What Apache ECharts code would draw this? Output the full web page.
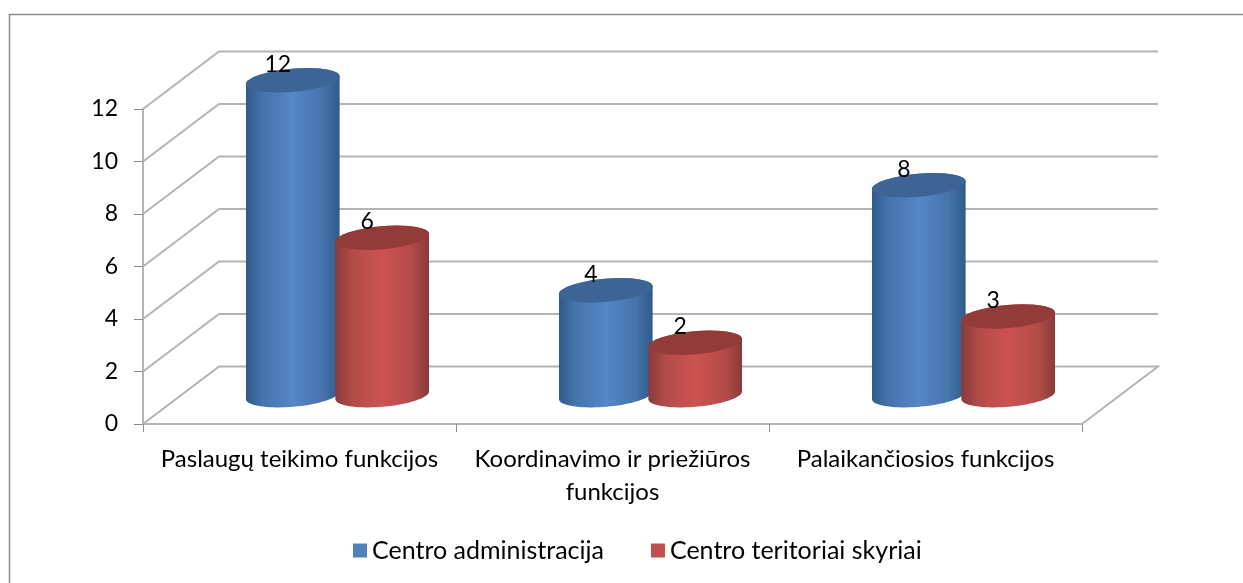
<!DOCTYPE html>
<html>
<head>
<meta charset="utf-8">
<style>
    html, body { margin: 0; padding: 0; background: #fff; }
    #chart { width: 1243px; height: 583px; }
</style>
<script src="https://cdn.jsdelivr.net/npm/echarts@6/dist/echarts.min.js"></script>
</head>
<body>
<div id="chart"></div>
<script>
var categories = ['Paslaugų teikimo funkcijos', 'Koordinavimo ir priežiūros\nfunkcijos', 'Palaikančiosios funkcijos'];
var seriesNames = ['Centro administracija', 'Centro teritoriai skyriai'];
var administracija = [12, 4, 8];
var skyriai = [6, 2, 3];
var yTicks = [0, 2, 4, 6, 8, 10, 12];

var FONT = 'Lato';
var GRID_COLOR = '#b4b4b4';
// 3d look: how far the back wall sits from the front plane
var DEPTH_X = 76;
var DEPTH_Y = 57.5;
// cylinder
var RX = 47;
var RY = 11.5;
var TILT = -5 * Math.PI / 180;
var SPREAD = 44.7;

// point on the tilted ellipse around (cx, cy)
function ellipsePoint(cx, cy, t) {
    var ex = RX * Math.cos(t);
    var ey = RY * Math.sin(t);
    return [
        cx + ex * Math.cos(TILT) - ey * Math.sin(TILT),
        cy + ex * Math.sin(TILT) + ey * Math.cos(TILT)
    ];
}

function arcPoints(cx, cy, from, to) {
    var pts = [];
    for (var i = 0; i <= 40; i++) {
        pts.push(ellipsePoint(cx, cy, from + (to - from) * i / 40));
    }
    return pts;
}

// back wall and floor lines, one data item per y tick
function renderWall(params, api) {
    var rect = params.coordSys;
    var left = rect.x;
    var right = rect.x + rect.width;
    var y = api.coord([0, api.value(0)])[1];
    var pts = [[left, y], [left + DEPTH_X, y - DEPTH_Y], [right + DEPTH_X, y - DEPTH_Y]];
    if (api.value(0) === 0) {
        pts.push([right, y]);
    }
    return {
        type: 'polyline',
        shape: { points: pts },
        style: { fill: null, stroke: GRID_COLOR, lineWidth: 2 },
        silent: true
    };
}

function cylinderRenderer(side, edge, mid, light, topColor) {
    return function (params, api) {
        var value = api.value(1);
        var top = api.coord([api.value(0), value]);
        var base = api.coord([api.value(0), 0]);
        var cx = top[0] + DEPTH_X / 2 + side * SPREAD;
        var topY = top[1] - DEPTH_Y / 2;
        var baseY = base[1] - DEPTH_Y / 2;
        var body = arcPoints(cx, baseY, 0, Math.PI).concat(arcPoints(cx, topY, Math.PI, 2 * Math.PI));
        return {
            type: 'group',
            children: [
                {
                    type: 'polygon',
                    shape: { points: body },
                    style: {
                        fill: new echarts.graphic.LinearGradient(0, 0, 1, 0, [
                            { offset: 0, color: edge },
                            { offset: 0.18, color: mid },
                            { offset: 0.5, color: light },
                            { offset: 0.82, color: mid },
                            { offset: 1, color: edge }
                        ])
                    }
                },
                {
                    type: 'polygon',
                    shape: { points: arcPoints(cx, topY, 0, 2 * Math.PI) },
                    style: { fill: topColor }
                },
                {
                    type: 'text',
                    z2: 10,
                    style: {
                        text: String(value),
                        x: cx - 15,
                        y: topY - 16,
                        align: 'center',
                        verticalAlign: 'middle',
                        font: '23px ' + FONT,
                        fill: '#000'
                    }
                }
            ]
        };
    };
}

function toRows(values) {
    var rows = [];
    for (var i = 0; i < values.length; i++) {
        rows.push([i, values[i]]);
    }
    return rows;
}

var option = {
    animation: false,
    backgroundColor: '#fff',
    textStyle: { fontFamily: FONT },
    graphic: [{
        type: 'polyline',
        shape: { points: [[9.5, 583], [9.5, 14.5], [1243, 14.5]] },
        style: { fill: null, stroke: '#8c8c8c', lineWidth: 1.5 },
        silent: true
    }],
    legend: {
        left: 348,
        top: 533,
        itemWidth: 14,
        itemHeight: 14,
        itemGap: 47,
        icon: 'rect',
        data: seriesNames,
        textStyle: { fontFamily: FONT, fontSize: 25, color: '#000' }
    },
    grid: { left: 143, right: 161, top: 109, height: 315 },
    xAxis: {
        type: 'category',
        data: categories,
        axisLine: { lineStyle: { color: GRID_COLOR, width: 2 } },
        axisTick: { show: true, length: 8, lineStyle: { color: '#8c8c8c', width: 1 } },
        axisLabel: { fontFamily: FONT, fontSize: 24, color: '#000', margin: 19, lineHeight: 33, interval: 0 }
    },
    yAxis: {
        type: 'value',
        min: 0,
        max: 12,
        interval: 2,
        axisLine: { show: true, lineStyle: { color: GRID_COLOR, width: 2 } },
        axisTick: { show: true, length: 9, lineStyle: { color: '#8c8c8c', width: 1 } },
        axisLabel: { fontFamily: FONT, fontSize: 23, color: '#000', margin: 25, padding: [4, 0, 0, 0] },
        splitLine: { show: false }
    },
    series: [
        {
            type: 'custom',
            coordinateSystem: 'cartesian2d',
            renderItem: renderWall,
            encode: { y: 0 },
            data: yTicks,
            z: 1,
            tooltip: { show: false }
        },
        {
            name: seriesNames[0],
            type: 'custom',
            renderItem: cylinderRenderer(-1, '#2f5a8c', '#4674ab', '#5586c8', '#3c6494'),
            encode: { x: 0, y: 1 },
            data: toRows(administracija),
            itemStyle: { color: '#4f81bd' },
            z: 3
        },
        {
            name: seriesNames[1],
            type: 'custom',
            renderItem: cylinderRenderer(1, '#873b39', '#b34b49', '#cc5351', '#923b39'),
            encode: { x: 0, y: 1 },
            data: toRows(skyriai),
            itemStyle: { color: '#c0504d' },
            z: 4
        }
    ]
};

var chart = echarts.init(document.getElementById('chart'), null, { renderer: 'canvas' });
chart.setOption(option);
</script>
</body>
</html>
